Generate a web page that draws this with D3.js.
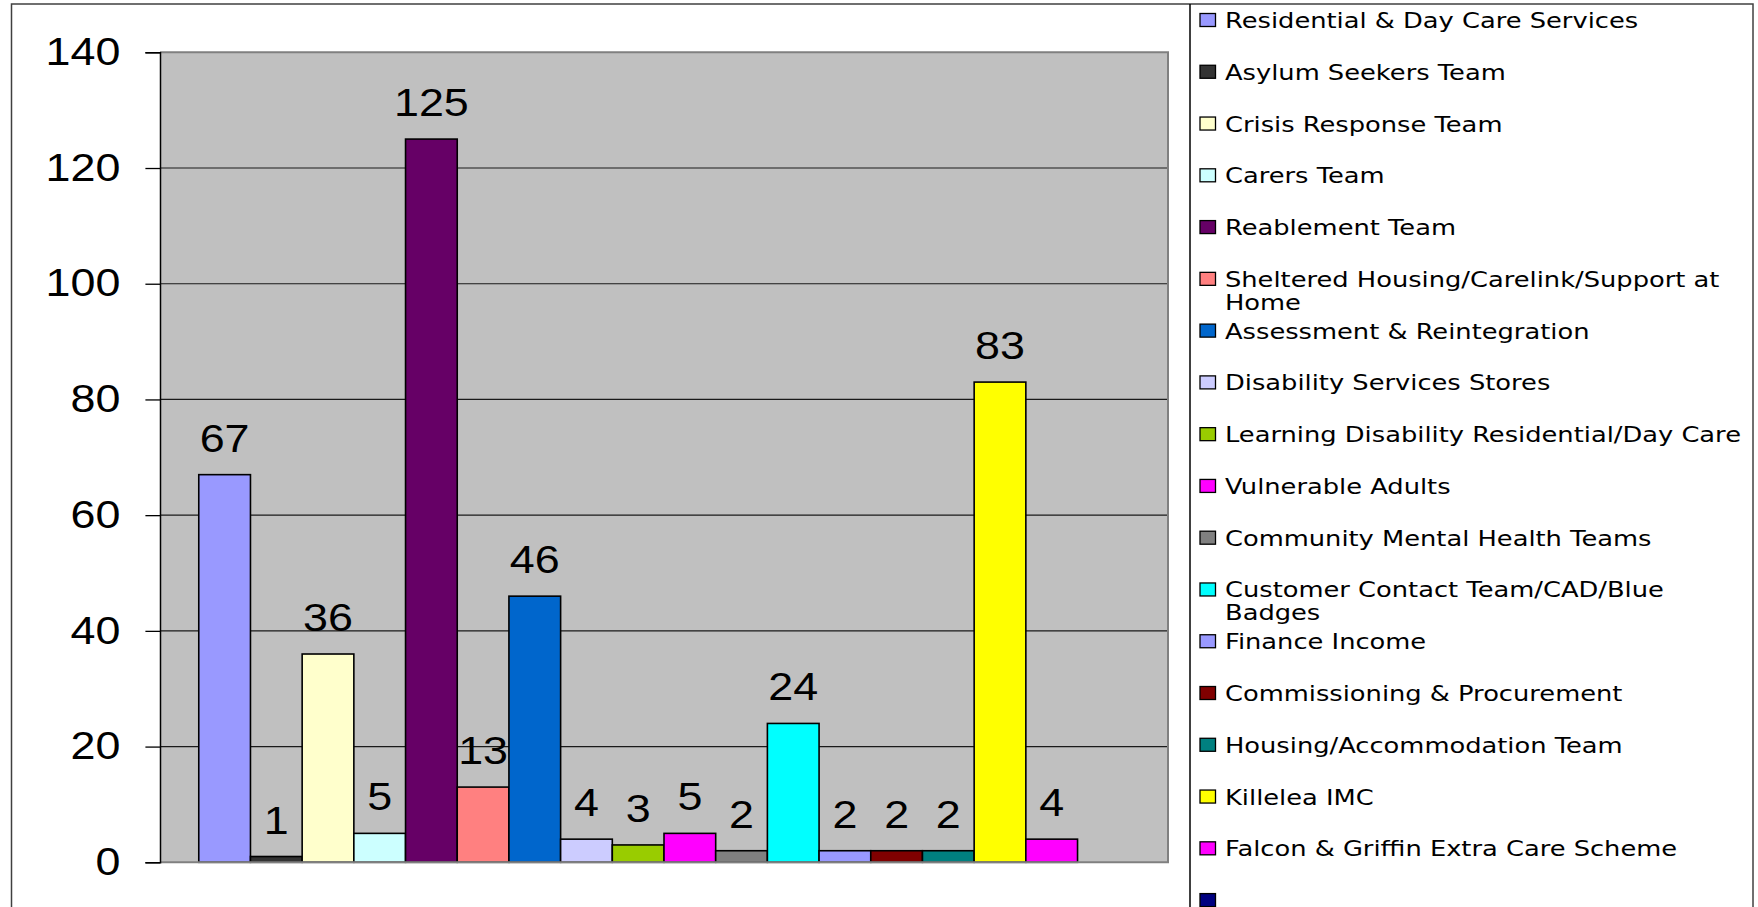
<!DOCTYPE html>
<html>
<head>
<meta charset="utf-8">
<script src="https://cdn.jsdelivr.net/npm/d3@7"></script>
<style>
  html, body { margin: 0; padding: 0; background: #fff; }
  svg { display: block; }
</style>
</head>
<body>
<svg id="chart" width="1758" height="907"></svg>
<script>
// Referrals by team / service
const teams = [
  "Residential & Day Care Services",
  "Asylum Seekers Team",
  "Crisis Response Team",
  "Carers Team",
  "Reablement Team",
  "Sheltered Housing/Carelink/Support at Home",
  "Assessment & Reintegration",
  "Disability Services Stores",
  "Learning Disability Residential/Day Care",
  "Vulnerable Adults",
  "Community Mental Health Teams",
  "Customer Contact Team/CAD/Blue Badges",
  "Finance Income",
  "Commissioning & Procurement",
  "Housing/Accommodation Team",
  "Killelea IMC",
  "Falcon & Griffin Extra Care Scheme",
  ""
];
const counts = [67, 1, 36, 5, 125, 13, 46, 4, 3, 5, 2, 24, 2, 2, 2, 83, 4, null];
const colors = [
  "#9999FF", "#333333", "#FFFFCC", "#CCFFFF", "#660066", "#FF8080",
  "#0066CC", "#CCCCFF", "#99CC00", "#FF00FF", "#808080", "#00FFFF",
  "#9999FF", "#800000", "#008080", "#FFFF00", "#FF00FF", "#000080"
];
const yTicks = [0, 20, 40, 60, 80, 100, 120, 140];

const W = 1758, H = 907;
const plot = { left: 160, right: 1168, top: 52.3, bottom: 862.3 };
const numFont = "'Liberation Sans', Arial, sans-serif";
const numSize = 38, numStretch = 1.18;
const legFont = "'DejaVu Sans', Verdana, sans-serif";
const legSize = 20.5, legStretch = 1.255;

const svg = d3.select("#chart");

// chart area frame
svg.append("rect")
  .attr("x", 0).attr("y", 0).attr("width", W).attr("height", H)
  .attr("fill", "#fff");
svg.append("rect")
  .attr("x", 11.5).attr("y", 4).attr("width", 1753 - 11.5).attr("height", H + 50)
  .attr("fill", "none").attr("stroke", "#404040").attr("stroke-width", 1.5);

const x = d3.scaleBand()
  .domain(d3.range(teams.length))
  .range([plot.left, plot.right])
  .paddingInner(0)
  .paddingOuter(0.75);
const y = d3.scaleLinear().domain([0, 140]).range([plot.bottom, plot.top]);

// plot background
svg.append("rect")
  .attr("x", plot.left).attr("y", plot.top)
  .attr("width", plot.right - plot.left).attr("height", plot.bottom - plot.top)
  .attr("fill", "#C0C0C0");

// gridlines
svg.append("g")
  .selectAll("line")
  .data(yTicks.filter(t => t > 0 && t < 140))
  .join("line")
  .attr("x1", plot.left).attr("x2", plot.right)
  .attr("y1", d => y(d)).attr("y2", d => y(d))
  .attr("stroke", "#1a1a1a").attr("stroke-width", 1.2);

// bars
const data = teams.map((t, i) => ({ team: t, value: counts[i], color: colors[i], i }))
  .filter(d => d.value != null);

svg.append("g")
  .selectAll("rect")
  .data(data)
  .join("rect")
  .attr("x", d => x(d.i))
  .attr("y", d => y(d.value))
  .attr("width", x.bandwidth())
  .attr("height", d => y(0) - y(d.value))
  .attr("fill", d => d.color)
  .attr("stroke", "#000")
  .attr("stroke-width", 1.6);

// plot border (top, right, bottom)
svg.append("path")
  .attr("d", `M${plot.left},${plot.top}H${plot.right}V${plot.bottom}H${plot.left}`)
  .attr("fill", "none").attr("stroke", "#808080").attr("stroke-width", 2);

// value axis
const yAxis = d3.axisLeft(y).tickValues(yTicks).tickSize(14.6).tickPadding(25);
const gy = svg.append("g")
  .attr("transform", `translate(${plot.left},0)`)
  .call(yAxis);
gy.select(".domain").attr("stroke", "#000").attr("stroke-width", 1.5);
gy.selectAll(".tick line").attr("stroke", "#000").attr("stroke-width", 1.3);
gy.selectAll(".tick text")
  .attr("fill", "#000")
  .style("font-family", numFont)
  .style("font-size", numSize + "px")
  .each(function () {
    const t = d3.select(this);
    const tx = +t.attr("x");
    t.attr("x", 0).attr("transform", `translate(${tx},0) scale(${numStretch},1)`);
  });

// value labels
svg.append("g")
  .selectAll("text")
  .data(data)
  .join("text")
  .attr("transform", d => `translate(${x(d.i) + x.bandwidth() / 2},${y(d.value) - 23}) scale(${numStretch},1)`)
  .attr("text-anchor", "middle")
  .style("font-family", numFont)
  .style("font-size", numSize + "px")
  .attr("fill", "#000")
  .text(d => d.value);

// legend
const legend = { left: 1190, itemX: 1200, textX: 1225, firstY: 20, step: 51.77, lineH: 22.7, maxW: 528 };
svg.append("line")
  .attr("x1", legend.left).attr("x2", legend.left)
  .attr("y1", 4).attr("y2", H + 10)
  .attr("stroke", "#000").attr("stroke-width", 1.5);

const lg = svg.append("g");
const items = lg.selectAll("g.item")
  .data(teams.map((t, i) => ({ team: t, color: colors[i], i })))
  .join("g")
  .attr("class", "item")
  .attr("transform", d => `translate(0,${legend.firstY + d.i * legend.step})`);

items.append("rect")
  .attr("x", legend.itemX).attr("y", -6.5)
  .attr("width", 15.5).attr("height", 13)
  .attr("fill", d => d.color)
  .attr("stroke", "#000").attr("stroke-width", 1.3);

items.each(function (d) {
  const g = d3.select(this);
  const text = g.append("text")
    .attr("transform", `translate(${legend.textX},8) scale(${legStretch},1)`)
    .style("font-family", legFont)
    .style("font-size", legSize + "px")
    .attr("fill", "#000");
  // word wrap to the legend width
  const words = d.team.split(" ").filter(w => w.length);
  let line = [];
  let lineNo = 0;
  let tspan = text.append("tspan").attr("x", 0).attr("dy", 0);
  for (const w of words) {
    line.push(w);
    tspan.text(line.join(" "));
    if (tspan.node().getComputedTextLength() * legStretch > legend.maxW && line.length > 1) {
      line.pop();
      tspan.text(line.join(" "));
      line = [w];
      lineNo++;
      tspan = text.append("tspan").attr("x", 0).attr("dy", legend.lineH).text(w);
    }
  }
});
</script>
</body>
</html>
